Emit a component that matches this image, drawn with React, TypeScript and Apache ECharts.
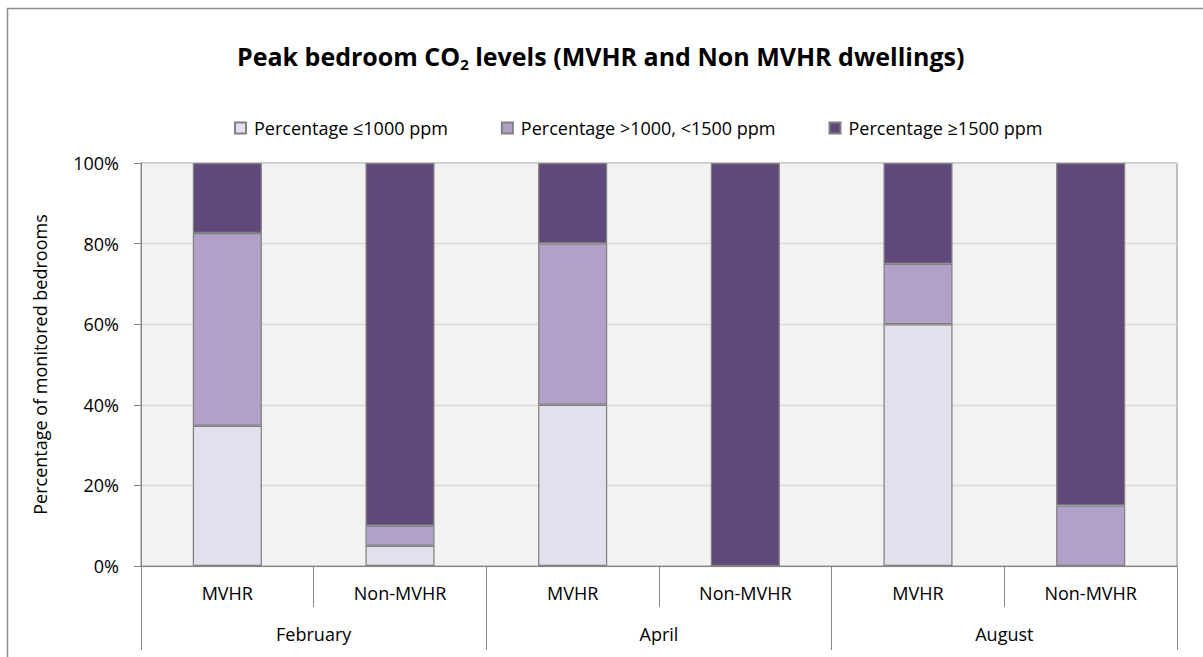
import React, { useEffect, useRef } from "react";
import * as echarts from "echarts";

const subCategories = ["MVHR", "Non-MVHR", "MVHR", "Non-MVHR", "MVHR", "Non-MVHR"];
const months = ["February", "April", "August"];
const seriesNames = [
  "Percentage ≤1000 ppm",
  "Percentage >1000, <1500 ppm",
  "Percentage ≥1500 ppm",
];
const lowValues = [34.8, 5, 40, 0, 60, 0];
const midValues = [47.8, 5, 40, 0, 15, 15];
const highValues = [17.4, 90, 20, 100, 25, 85];
const yTicks = [0, 20, 40, 60, 80, 100];
const colors = ["#E4DFEC", "#B1A0C7", "#60497A"];

const FONT = "'Open Sans', 'Noto Sans', sans-serif";

export default function App() {
  const ref = useRef<HTMLDivElement>(null);
  useEffect(() => {
    if (!ref.current) return;
    const chart = echarts.init(ref.current, undefined, { renderer: "svg" });
    const values = [lowValues, midValues, highValues];
    chart.setOption({
      animation: false,
      backgroundColor: "#ffffff",
      textStyle: { fontFamily: FONT, color: "#000" },
      title: {
        text: "{a|Peak bedroom CO}{s|2}{a| levels (MVHR and Non MVHR dwellings)}",
        left: 232,
        top: 35,
        textStyle: {
          rich: {
            a: { fontSize: 25, fontWeight: "bold", fontFamily: FONT, color: "#000", lineHeight: 31 },
            s: { fontSize: 15, fontWeight: "bold", fontFamily: FONT, color: "#000", lineHeight: 14, verticalAlign: "bottom" },
          },
        },
      },
      legend: {
        left: 229,
        top: 114,
        itemWidth: 11,
        itemHeight: 11,
        itemGap: 53,
        icon: "rect",
        data: seriesNames,
        textStyle: { fontSize: 18, fontFamily: FONT, color: "#000", padding: [0, 0, 0, 3] },
      },
      grid: {
        left: 141,
        right: 26,
        top: 163,
        bottom: 91,
        show: true,
        backgroundColor: "#F2F2F2",
        borderColor: "#868686",
        borderWidth: 1,
        containLabel: false,
      },
      xAxis: [
        {
          type: "category",
          data: subCategories,
          position: "bottom",
          axisLine: { show: true, lineStyle: { color: "#868686", width: 1 } },
          axisTick: { show: true, interval: 0, length: 41, lineStyle: { color: "#868686", width: 1 } },
          axisLabel: { interval: 0, margin: 18, fontSize: 18, color: "#000", fontFamily: FONT },
        },
        {
          type: "category",
          data: months,
          position: "bottom",
          gridIndex: 0,
          axisLine: { show: false },
          axisTick: { show: true, interval: 0, length: 84, lineStyle: { color: "#868686", width: 1 } },
          axisLabel: { interval: 0, margin: 59, fontSize: 18, color: "#000", fontFamily: FONT },
        },
      ],
      yAxis: {
        type: "value",
        min: yTicks[0],
        max: yTicks[yTicks.length - 1],
        interval: 20,
        name: "Percentage of monitored bedrooms",
        nameLocation: "middle",
        nameGap: 92,
        nameTextStyle: { fontSize: 18, color: "#000", fontFamily: FONT },
        axisLine: { show: true, lineStyle: { color: "#868686", width: 1 } },
        axisTick: { show: true, length: 7, lineStyle: { color: "#868686", width: 1 } },
        axisLabel: { formatter: "{value}%", margin: 22, fontSize: 18, color: "#000", fontFamily: FONT },
        splitLine: { show: true, lineStyle: { color: "#D9D9D9", width: 1.3 } },
      },
      series: seriesNames.map((name, i) => ({
        name,
        type: "bar",
        stack: "total",
        xAxisIndex: 0,
        barWidth: "40%",
        data: values[i],
        itemStyle: { color: colors[i], borderColor: "#808080", borderWidth: 1.25 },
      })),
      graphic: [
        {
          type: "rect",
          silent: true,
          z: 100,
          shape: { x: 7.5, y: 8.5, width: 1300, height: 800 },
          style: { fill: "none", stroke: "#8c8c8c", lineWidth: 1.5 },
        },
      ],
    });
    return () => chart.dispose();
  }, []);
  return (
    <div
      ref={ref}
      style={{ position: "fixed", left: 0, top: 0, width: 1203, height: 657 }}
    />
  );
}
